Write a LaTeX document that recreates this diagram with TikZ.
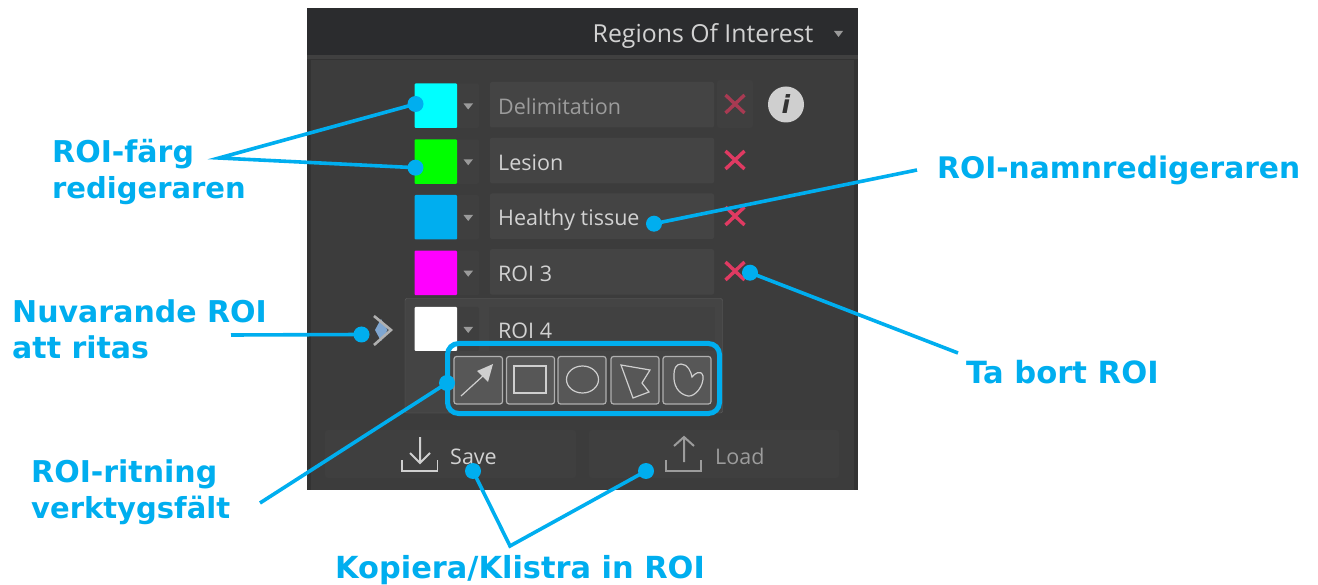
\documentclass[tikz,border=0pt]{standalone}
\usepackage{fontspec}
\setmainfont{DejaVu Sans}
\newfontfamily\uifont{Open Sans}
\usetikzlibrary{calc}
\definecolor{lblue}{HTML}{00AEEF}
\definecolor{hdr}{HTML}{2B2C2E}
\definecolor{outer}{HTML}{333333}
\definecolor{inner}{HTML}{3C3C3C}
\definecolor{field}{HTML}{444444}
\definecolor{btn}{HTML}{3F3F3F}
\definecolor{drop}{HTML}{3F3F3F}
\definecolor{xred}{HTML}{E03A62}
\definecolor{xdim}{HTML}{A83A52}
\definecolor{ui}{HTML}{D2D2D2}
\definecolor{uidim}{HTML}{9C9C9C}
\definecolor{icon}{HTML}{CFCFCF}
\definecolor{swcyan}{HTML}{00FFFF}
\definecolor{swgreen}{HTML}{00FF00}
\definecolor{swmag}{HTML}{FF00FF}
\definecolor{tricol}{HTML}{9A9A9A}
\definecolor{chev}{HTML}{B0B0B0}
\definecolor{chevin}{HTML}{7FA6D0}
\newcommand{\fs}[1]{\fontsize{#1}{36}\selectfont}
\tikzset{
  x=1pt,y=-1pt,
  callout/.style={font=\fontsize{30}{36}\selectfont\bfseries,text=lblue,align=left,anchor=west,inner sep=0pt},
  leader/.style={draw=lblue,line width=3.6pt},
  dotm/.style={circle,fill=lblue,inner sep=0pt,minimum size=16pt},
  uitext/.style={font=\uifont\fontsize{21.5}{26}\selectfont,text=ui,anchor=base west,inner sep=0pt},
  fieldbox/.style={fill=field,rounded corners=2pt,draw=none},
  toolbtn/.style={draw=icon!85!black,line width=1.2pt,rounded corners=2.5pt,fill=field!90!white},
  toolicon/.style={draw=icon,line width=1.2pt},
  xmark/.style={line width=3.4pt},
}
\newcommand{\rowparts}[2]{%
  \fill[drop,rounded corners=2pt] (457,#1) rectangle (479,#1+44.5);
  \fill[#2,rounded corners=1pt] (414.5,#1) rectangle (457,#1+44.5);
  \fill[tricol] (463.5,#1+20) -- (473,#1+20) -- (468.2,#1+26) -- cycle;
  \fill[fieldbox] (490,#1-1.5) rectangle (714,#1+44);
}
\begin{document}
\begin{tikzpicture}
\useasboundingbox (0,0) rectangle (1318,585);
\fill[white] (0,0) rectangle (1318,585);
% panel
\fill[outer] (307,8) rectangle (858,489.5);
\fill[hdr] (307,8) rectangle (858,55);
\fill[black!75] (307,55) rectangle (858,59);
\fill[inner] (311,60) rectangle (854,489.5);
\node[uitext,font=\uifont\fontsize{24.8}{26}\selectfont] (title) at (592.5,43) {Regions Of Interest};
\fill[tricol] (834,31) -- (843,31) -- (838.5,37) -- cycle;
% rows
\rowparts{83.5}{swcyan}
\rowparts{139.3}{swgreen}
\rowparts{195}{lblue}
\rowparts{250.7}{swmag}
% active row
\fill[field,draw=field!85!white,rounded corners=2pt] (405,298.5) rectangle (722.5,413);
\fill[drop,rounded corners=2pt] (457,307) rectangle (479,351);
\fill[btn!60!field] (489,307) rectangle (714.5,351);
\fill[white,rounded corners=1pt] (414.5,307) rectangle (457,351);
\fill[tricol] (463.5,327) -- (473,327) -- (468.2,333) -- cycle;
% labels
\node[uitext,text=uidim] (n1) at (498,115) {Delimitation};
\node[uitext] (n2) at (498,170.5) {Lesion};
\node[uitext] (n3) at (498,226) {Healthy tissue};
\node[uitext] (n4) at (498,281.5) {ROI 3};
\node[uitext] (n5) at (498,339) {ROI 4};
% x marks
\fill[drop,rounded corners=3pt] (717,80) rectangle (753,128);
\draw[xmark,draw=xdim] (725.5,95) -- (744.5,113) (744.5,95) -- (725.5,113);
\foreach \y in {160,216,271}{
  \draw[xmark,draw=xred] (725.5,\y-9) -- (744.5,\y+9) (744.5,\y-9) -- (725.5,\y+9);
}
% info
\fill[icon] (786,104.5) circle (18);
\node[font=\fontsize{25}{25}\selectfont\bfseries\itshape,text=outer,inner sep=0pt] (info) at (786,104) {i};
% current chevron
\fill[chevin] (375,330) -- (381,319) -- (387.5,330) -- (381,341) -- cycle;
\draw[chev,line width=2.6pt] (374,316) -- (391,330) -- (374,345);
% toolbar buttons
\foreach \a/\b in {454/502.5,506.5/554.5,558/606,611/659,663/711}{
  \draw[toolbtn] (\a,356.5) rectangle (\b,404);
}
\draw[toolicon] (461,396) -- (484,375);
\fill[icon] (493,364) -- (477,371) -- (488,382) -- cycle;
\draw[toolicon] (514,366) rectangle (546,393);
\draw[toolicon] (582.5,379.5) ellipse (16 and 13.5);
\draw[toolicon] (621,365) -- (650,370) -- (642,383) -- (649,392) -- (633,398) -- cycle;
\draw[toolicon] (681,364) .. controls (688,364) and (691,372) .. (692,377) .. controls (694,374) and (701,369) .. (703,376) .. controls (704,386) and (695,397) .. (688,396) .. controls (678,394) and (673,385) .. (674,374) .. controls (674,369) and (676,364) .. (681,364) -- cycle;
% toolbar highlight
\draw[draw=lblue,line width=5pt,rounded corners=11pt] (447.5,343.5) rectangle (719.5,413.5);
% Save / Load
\fill[btn,rounded corners=3pt] (325,430) rectangle (576,478);
\fill[btn,rounded corners=3pt] (589,430) rectangle (839,478);
\draw[icon,line width=1.6pt] (402,460) -- (402,471) -- (437.5,471) -- (437.5,460);
\draw[icon,line width=2pt] (420,437) -- (420,462) (410,453) -- (420,463) -- (430,453);
\node[uitext] (save) at (450,464) {Save};
\draw[uidim,line width=1.6pt] (666,460) -- (666,471) -- (701,471) -- (701,460);
\draw[uidim,line width=2pt] (684,462) -- (684,438) (674,446) -- (684,437) -- (694,446);
\node[uitext,text=uidim] (load) at (715,464) {Load};
% callouts
\node[callout] (t1) at (52,172.5) {ROI-färg\\{\fs{29}redigeraren}};
\node[callout] (t2) at (937,170) {\fs{29.7}ROI-namnredigeraren};
\node[callout] (t3) at (12,329) {Nuvarande ROI\\att ritas};
\node[callout] (t4) at (966,372) {\fs{30.6}Ta bort ROI};
\node[callout] (t5) at (31,492) {ROI-ritning\\{\fs{29}verktygsfält}};
\node[callout] (t6) at (335,570) {\fs{30.4}Kopiera/Klistra in ROI};
% leader ends
\node[dotm] (d1) at (415.5,104) {};
\node[dotm] (d2) at (415.5,167.7) {};
\node[dotm] (d3) at (654,223.7) {};
\node[dotm] (d4) at (750,272.7) {};
\node[dotm] (d5) at (361.5,334.5) {};
\node[dotm] (d6) at (447,383) {};
\node[dotm] (d7) at (473,471) {};
\node[dotm] (d8) at (646,471) {};
\coordinate (c1) at (219,158);
\coordinate (c3) at (917,170);
\coordinate (c4) at (958,353);
\coordinate (c5) at (231,335);
\coordinate (c6) at (260,503);
\coordinate (c7) at (510,546);
\draw[leader] (d1.center) -- (c1) -- (d2.center);
\draw[leader] (d3.center) -- (c3);
\draw[leader] (d4.center) -- (c4);
\draw[leader] (d5.center) -- (c5);
\draw[leader] (d6.center) -- (c6);
\draw[leader] (d7.center) -- (c7) -- (d8.center);
\end{tikzpicture}
\end{document}
